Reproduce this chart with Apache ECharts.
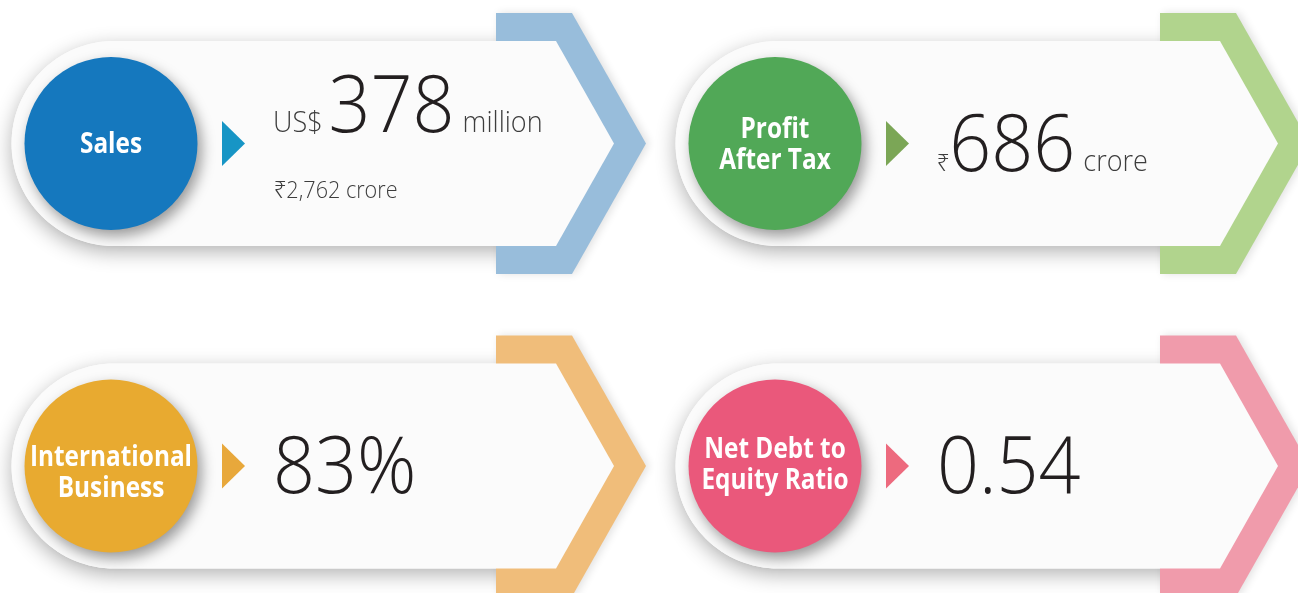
<!DOCTYPE html>
<html><head><meta charset="utf-8">
<script src="https://cdn.jsdelivr.net/npm/echarts@6/dist/echarts.min.js"></script>
<style>html,body{margin:0;padding:0;background:#fff;}#chart{width:1298px;height:593px;}</style>
</head><body><div id="chart"></div>
<script>
// ---- data ----
const metricLabels = ['Sales', 'Profit\nAfter Tax', 'International\nBusiness', 'Net Debt to\nEquity Ratio'];
const metricValues = [378, 686, 83, 0.54];
const valueDecimals = [0, 0, 0, 2];
const valuePrefixes = ['US$', '₹', '', ''];
const valueSymbols = ['', '', '%', ''];
const valueSuffixes = ['million', 'crore', '', ''];
const valueNotes = ['₹2,762 crore', '', '', ''];

// ---- styles ----
const circleColors = ['#1578be', '#51a857', '#e8aa30', '#ea587b'];
const chevronColors = ['#98bddb', '#b1d48d', '#f0bd7a', '#f09bab'];
const triangleColors = ['#1795c5', '#7ba656', '#e8a83b', '#ed6a7e'];
const prefixSizes = [30, 24, 0, 0];
const labelShift = [0, 0, 6, -2];

const FONT = '"Open Sans", "Noto Sans", "DejaVu Sans", sans-serif';
const SX_SMALL = 0.9, SX_BIG = 0.92;
const K = 0.29; // middle offset relative to baseline
const mctx = document.createElement('canvas').getContext('2d');
function tw(text, size, sx) {
  mctx.font = '300 ' + size + 'px ' + FONT;
  return mctx.measureText(text).width * sx;
}
function lightText(text, x, baseline, size, color, sx) {
  return {
    type: 'text', x: x, y: baseline - K * size, scaleX: sx, z: 6,
    style: { text: text, x: 0, y: 0, align: 'left', verticalAlign: 'middle',
      fill: color, fontSize: size, fontWeight: 300, fontFamily: FONT }
  };
}

const CARD_DX = 664, CARD_DY = 322.5;
const els = [];
metricLabels.forEach(function (label, i) {
  const ox = (i % 2) * CARD_DX, oy = Math.floor(i / 2) * CARD_DY;
  const P = function (x, y) { return [ox + x, oy + y]; };
  const pts = [P(114, 41), P(556, 41), P(614, 143.5), P(556, 246), P(114, 246)];
  const R = 102.5;
  for (let k = 1; k < 64; k++) {
    const a = Math.PI / 2 + Math.PI * k / 64;
    pts.push(P(114 + R * Math.cos(a), 143.5 + R * Math.sin(a)));
  }
  // card shadow layer (under the chevron)
  els.push({ type: 'polygon', z: 1, shape: { points: pts },
    style: { fill: '#fbfbfb', shadowBlur: 20, shadowColor: 'rgba(0,0,0,0.3)', shadowOffsetY: 6 } });
  // chevron
  els.push({ type: 'polygon', z: 2,
    shape: { points: [P(496, 13), P(572, 13), P(646, 143.5), P(572, 274), P(496, 274)] },
    style: { fill: chevronColors[i], shadowBlur: 8, shadowColor: 'rgba(0,0,0,0.12)', shadowOffsetX: 3 } });
  // card face
  els.push({ type: 'polygon', z: 3, shape: { points: pts }, style: { fill: '#fbfbfb' } });
  els.push({ type: 'circle', z: 4, shape: { cx: ox + 111, cy: oy + 143.5, r: 86.5 },
    style: { fill: circleColors[i], shadowBlur: 14, shadowColor: 'rgba(0,0,0,0.4)', shadowOffsetX: 4, shadowOffsetY: 6 } });
  els.push({ type: 'text', z: 5, x: ox + 111, y: oy + 145 + labelShift[i], scaleX: 0.84,
    style: { text: label, x: 0, y: 0, align: 'center', verticalAlign: 'middle', fill: '#ffffff',
      fontSize: 29, fontWeight: 'bold', fontFamily: FONT, lineHeight: 31 } });
  els.push({ type: 'polygon', z: 4, shape: { points: [P(222, 121), P(245, 143.5), P(222, 166)] },
    style: { fill: triangleColors[i] } });

  const hasNote = !!valueNotes[i];
  const baseline = oy + (hasNote ? 132 : 171);
  let cx = ox + 273;
  if (valuePrefixes[i]) {
    const ps = prefixSizes[i];
    els.push(lightText(valuePrefixes[i], cx, baseline, ps, '#3d3d3d', SX_SMALL));
    cx += tw(valuePrefixes[i], ps, SX_SMALL) + (ps > 26 ? 6 : 0);
  }
  const vt = metricValues[i].toFixed(valueDecimals[i]) + valueSymbols[i];
  els.push(lightText(vt, cx, baseline, 80, '#231f20', SX_BIG));
  cx += tw(vt, 80, SX_BIG) + 8;
  if (valueSuffixes[i]) {
    els.push(lightText(valueSuffixes[i], cx, baseline, 30, '#3d3d3d', SX_SMALL));
  }
  if (hasNote) {
    els.push(lightText(valueNotes[i], ox + 274, oy + 198, 24, '#3d3d3d', SX_SMALL));
  }
});

const chart = echarts.init(document.getElementById('chart'));
chart.setOption({ backgroundColor: '#ffffff', animation: false, graphic: { elements: els } });
</script>
</body></html>
